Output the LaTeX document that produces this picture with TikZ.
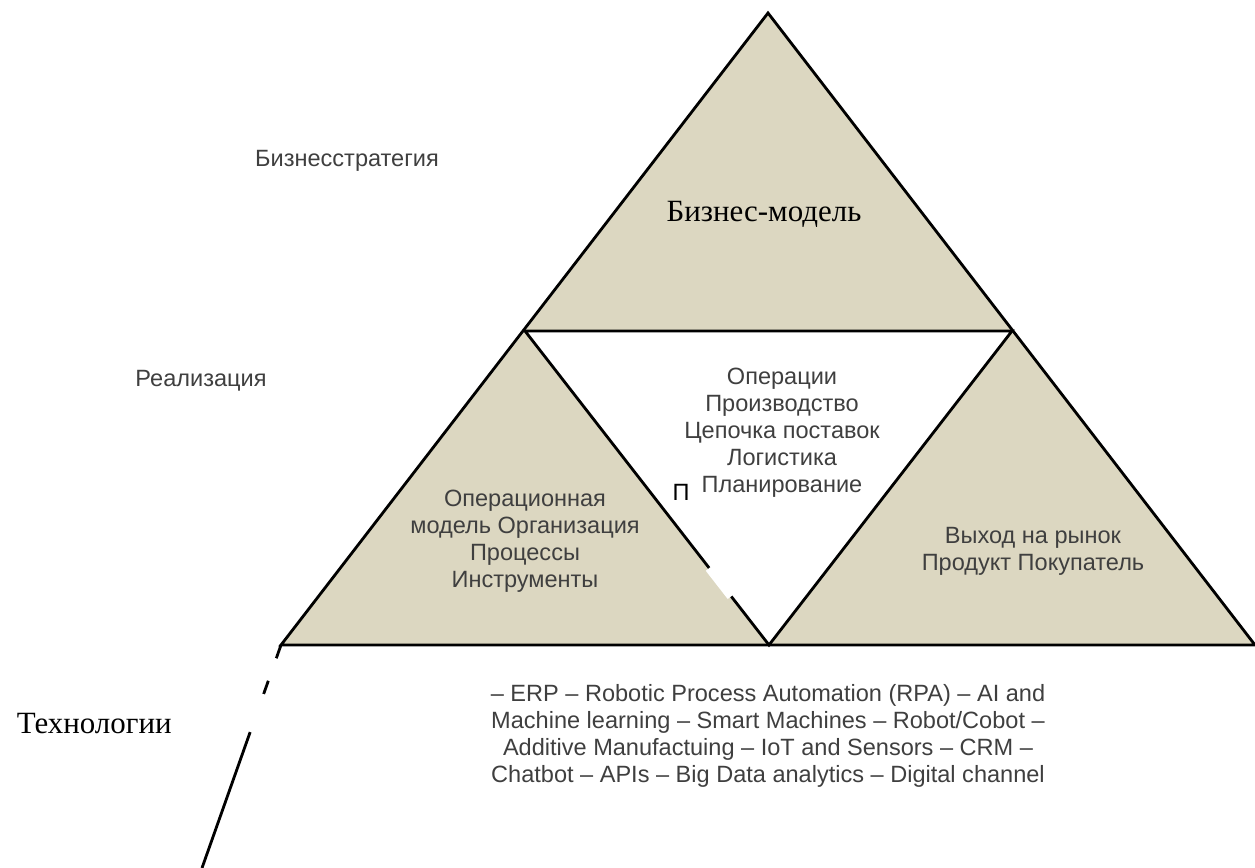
\documentclass[tikz,border=0pt]{standalone}
\usepackage{fontspec}
\setmainfont{Liberation Serif}
\setsansfont{Liberation Sans}
\usepackage{tikz}
\usetikzlibrary{calc}
\definecolor{pyrfill}{HTML}{DCD7C1}
\definecolor{labelgray}{HTML}{3F3F3F}

\begin{document}
\begin{tikzpicture}[x=0.02cm, y=-0.02cm,
  edge/.style={line width=1.6pt, line join=miter},
  gap/.style={white, line width=5pt},
  lbl/.style={font=\sffamily\fontsize{13.4}{15.4}\selectfont, text=labelgray, align=center, inner sep=0pt},
  big/.style={font=\fontsize{17.6}{20}\selectfont, inner sep=0pt},
]
  \useasboundingbox (0,0) rectangle (1255,868);
  % corners of the pyramid
  \coordinate (top) at (768,13);
  \coordinate (ml) at (525,331);
  \coordinate (mr) at (1012,331);
  \coordinate (bl) at (281,645);
  \coordinate (bm) at (769,645);
  \coordinate (br) at (1255,645);
  \coordinate (tail) at (202,868);

  \fill[pyrfill] (top) -- (ml) -- (mr) -- cycle;
  \fill[pyrfill] (ml) -- (bl) -- (bm) -- cycle;
  \fill[pyrfill] (mr) -- (bm) -- (br) -- cycle;
  \draw[edge] (top) -- (bl) -- (br) -- cycle;
  \draw[edge] (ml) -- (mr) -- (bm) -- cycle;
  \draw[edge] (bl) -- (tail);

  % broken bits of the lines
  \draw[gap] ($(bl)!0.06!(tail)$) -- ($(bl)!0.16!(tail)$);
  \draw[gap] ($(bl)!0.22!(tail)$) -- ($(bl)!0.39!(tail)$);
  \draw[gap] ($(bm)!0.155!(ml)$) -- ($(bm)!0.245!(ml)$);

  \node[lbl, anchor=base] (strat) at (347,167) {Бизнесстратегия};
  \node[big, anchor=base] (bmodel) at (764,222) {Бизнес-модель};
  \node[lbl, anchor=base] (real) at (201,386) {Реализация};
  \node[lbl] (ops) at (782,433)
    {Операции\\Производство\\Цепочка поставок\\Логистика\\Планирование};
  \node[lbl] (opmodel) at (525,541)
    {Операционная\\модель Организация\\Процессы\\Инструменты};
  \node[lbl] (market) at (1033,551) {Выход на рынок\\Продукт Покупатель};
  \node[lbl, text=black, anchor=base] (stray) at (681,500) {П};
  \node[big, anchor=base east] (tech) at (172,733) {Технологии};
  \node[lbl] (techlist) at (768,736)
    {– ERP – Robotic Process Automation (RPA) – AI and\\
     Machine learning – Smart Machines – Robot/Cobot –\\
     Additive Manufactuing – IoT and Sensors – CRM –\\
     Chatbot – APIs – Big Data analytics – Digital channel};
\end{tikzpicture}
\end{document}
